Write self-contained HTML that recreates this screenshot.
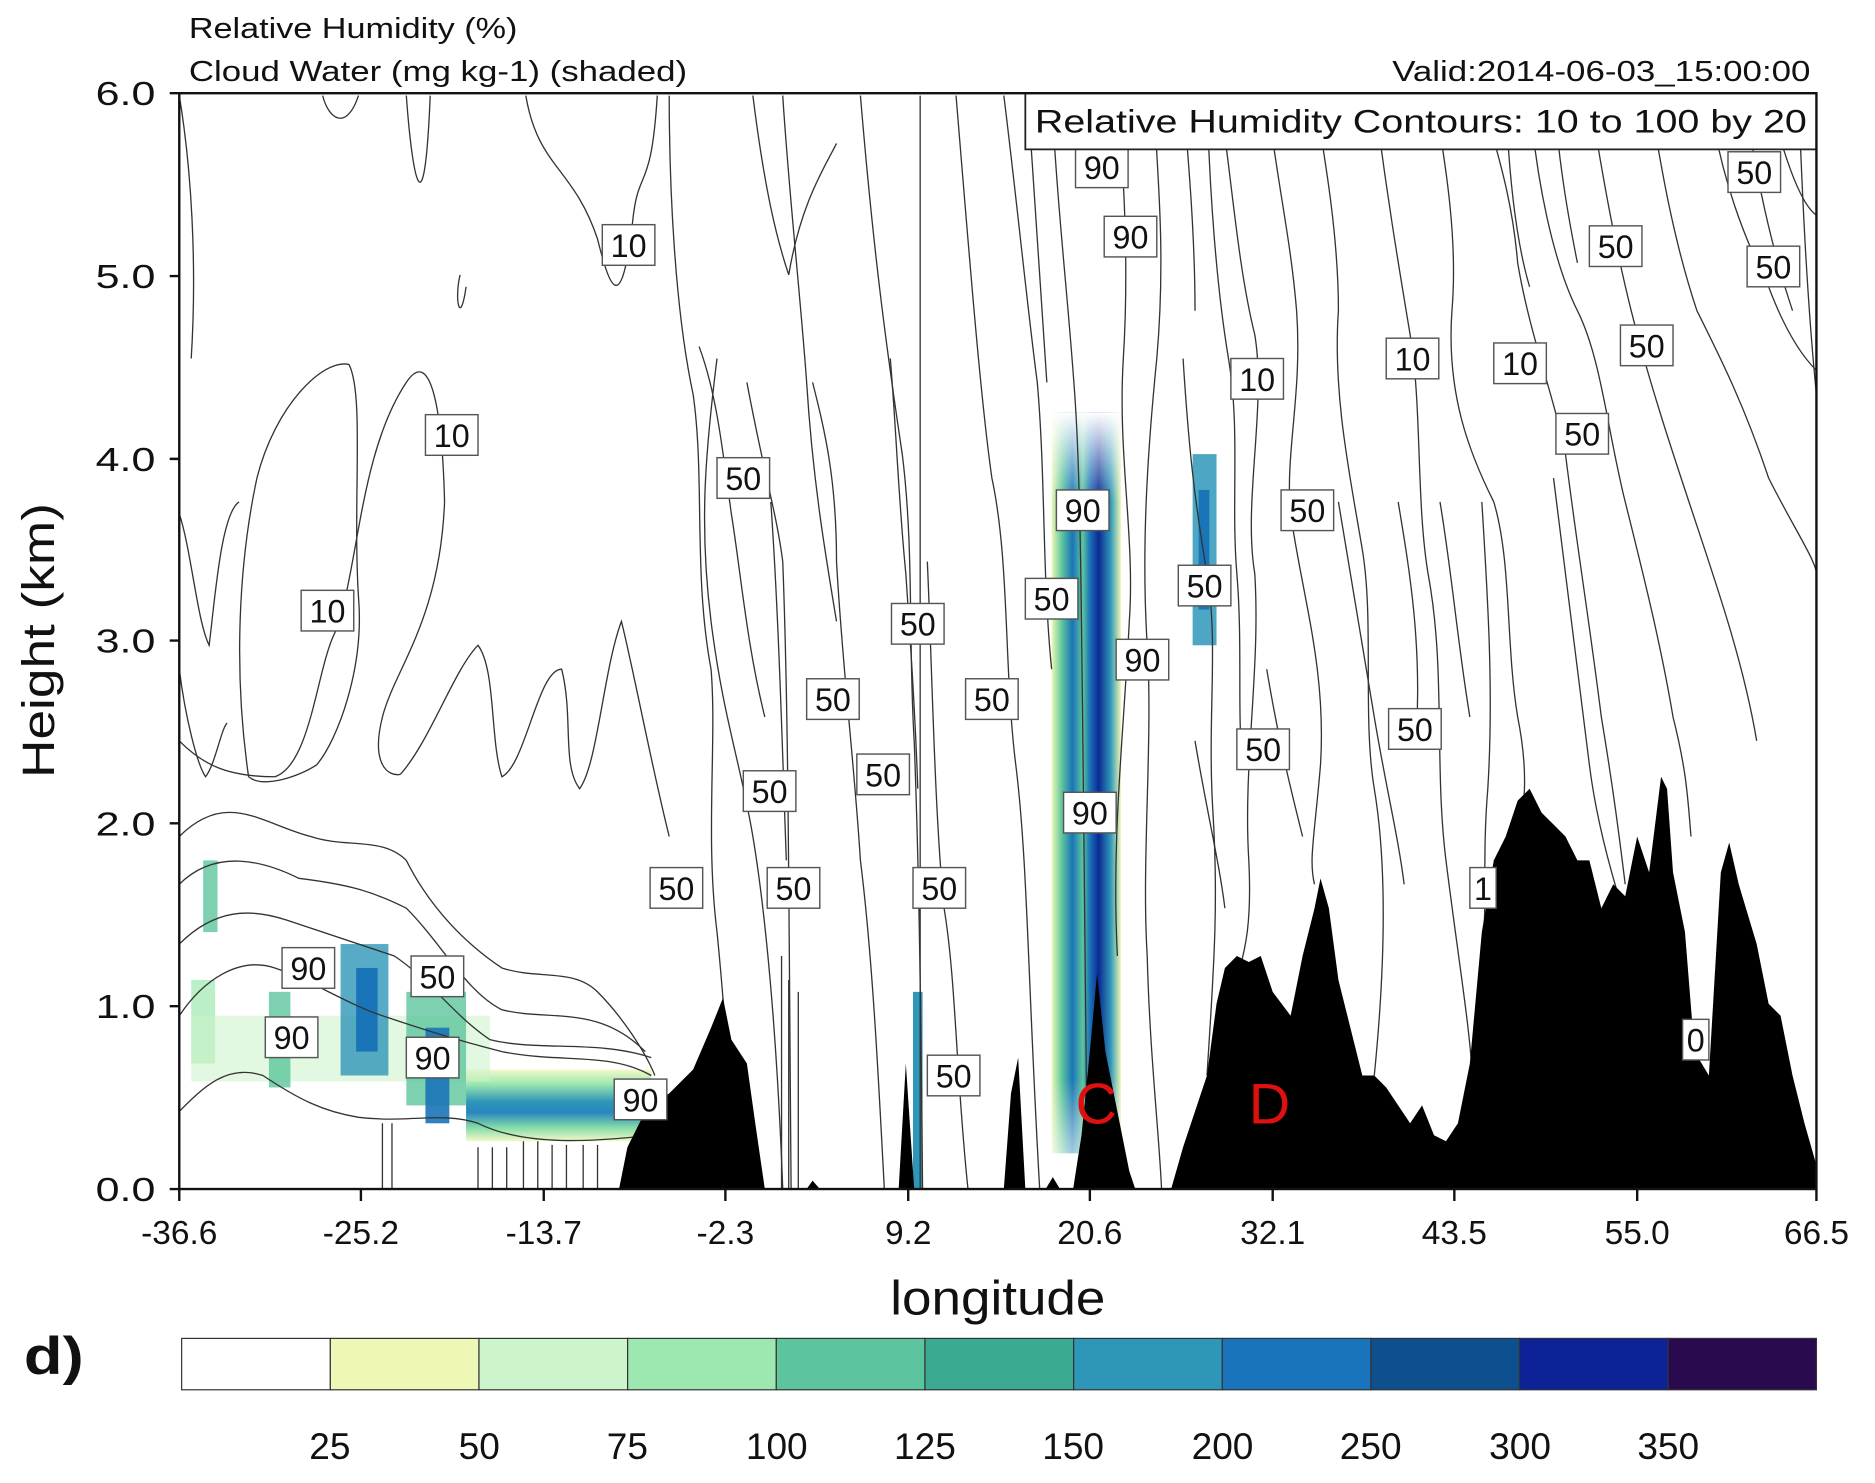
<!DOCTYPE html>
<html><head><meta charset="utf-8"><style>
html,body{margin:0;padding:0;background:#fff}
svg{display:block}
text{font-family:"Liberation Sans",sans-serif;fill:#111}
</style></head><body>
<svg width="1875" height="1483" viewBox="0 0 1569 1241" xmlns="http://www.w3.org/2000/svg">
<defs>
<linearGradient id="band" x1="0" y1="0" x2="0" y2="1">
<stop offset="0" stop-color="#f4f9c8"/><stop offset="0.2" stop-color="#9de8b0"/><stop offset="0.45" stop-color="#2e96b8"/><stop offset="0.6" stop-color="#2a86c0"/><stop offset="0.8" stop-color="#7fd9a8"/><stop offset="1" stop-color="#f4f9c8"/>
</linearGradient>
<linearGradient id="col" x1="0" y1="0" x2="1" y2="0">
<stop offset="0" stop-color="#eef7b5"/><stop offset="0.15" stop-color="#5cc59d"/><stop offset="0.3" stop-color="#1a74b8"/><stop offset="0.45" stop-color="#5cc59d"/><stop offset="0.55" stop-color="#1a74b8"/><stop offset="0.68" stop-color="#0c2a93"/><stop offset="0.85" stop-color="#2e96b8"/><stop offset="1" stop-color="#eef7b5"/>
</linearGradient>
<linearGradient id="colv" x1="0" y1="0" x2="0" y2="1">
<stop offset="0" stop-color="#fff" stop-opacity="1"/><stop offset="0.12" stop-color="#fff" stop-opacity="0"/><stop offset="0.9" stop-color="#fff" stop-opacity="0"/><stop offset="1" stop-color="#fff" stop-opacity="0.6"/>
</linearGradient>
</defs>

<text x="158" y="32" font-size="24" textLength="275" lengthAdjust="spacingAndGlyphs">Relative Humidity (%)</text>
<text x="158" y="68" font-size="24" textLength="417" lengthAdjust="spacingAndGlyphs">Cloud Water (mg kg-1) (shaded)</text>
<text x="1165" y="68" font-size="24" textLength="350" lengthAdjust="spacingAndGlyphs">Valid:2014-06-03_15:00:00</text>

<g>
<rect x="390" y="895" width="155" height="60" fill="url(#band)"/>
<rect x="160" y="820" width="20" height="70" fill="#9de8b0" opacity="0.7"/>
<rect x="170" y="720" width="12" height="60" fill="#5cc59d" opacity="0.8"/>
<rect x="160" y="850" width="250" height="55" fill="#ccf2c8" opacity="0.55"/>
<rect x="225" y="830" width="18" height="80" fill="#5cc59d" opacity="0.8"/>
<rect x="285" y="790" width="40" height="110" fill="#2e96b8" opacity="0.8"/>
<rect x="298" y="810" width="18" height="70" fill="#1a74b8"/>
<rect x="340" y="830" width="50" height="95" fill="#5cc59d" opacity="0.8"/>
<rect x="356" y="860" width="20" height="80" fill="#1a74b8" opacity="0.9"/>
<rect x="880" y="345" width="58" height="620" fill="url(#col)"/>
<rect x="880" y="345" width="58" height="620" fill="url(#colv)"/>
<rect x="998" y="380" width="20" height="160" fill="#2e96b8" opacity="0.85"/>
<rect x="1003" y="410" width="9" height="100" fill="#1a74b8"/>
<rect x="764" y="830" width="8" height="165" fill="#2e96b8"/>
</g>

<g fill="none" stroke="#333" stroke-width="1.1">
<path d="M208,650 C195,560 200,470 215,400 C230,340 270,300 292,305 C305,330 295,420 300,500 C305,560 282,620 265,640 C250,650 220,660 208,650"/>
<path d="M150,430 C160,460 165,520 175,540 C180,500 185,430 200,420"/>
<path d="M150,560 C155,600 165,640 172,650 C180,640 185,610 190,605"/>
<path d="M150,620 C170,640 190,650 230,650 C260,640 265,560 280,530 C300,480 300,380 340,320 C360,290 370,340 372,420 C368,520 330,560 320,600 C310,640 325,650 335,648"/>
<path d="M335,648 C360,620 380,560 400,540 C415,560 410,620 420,650 C440,640 450,560 470,560 C480,600 470,640 485,660 C500,640 505,560 520,520 C530,560 545,640 560,700"/>
<path d="M150,700 C190,660 220,690 260,700 C290,710 320,700 340,720 C360,760 390,790 420,810 C450,820 480,810 500,830 C520,850 540,880 548,900"/>
<path d="M150,740 C180,710 220,720 250,735 C290,740 310,745 340,760 C370,790 390,830 420,845 C460,855 500,840 540,880"/>
<path d="M150,790 C180,760 210,760 240,770 C270,780 300,790 330,800 C360,820 380,850 410,870 C450,880 500,870 545,885"/>
<path d="M150,850 C170,820 200,800 230,810 C260,820 290,840 320,850 C350,860 380,870 420,880 C470,890 510,880 545,900"/>
<path d="M150,930 C170,910 190,890 220,900 C250,920 270,930 300,935 C340,940 370,930 400,940 C440,960 500,955 545,950"/>
<path d="M150,80 C160,140 165,220 160,300"/>
<path d="M270,80 C275,100 290,110 300,80"/>
<path d="M340,80 C345,150 355,200 360,80"/>
<path d="M385,230 C380,250 385,275 390,240"/>
<path d="M440,80 C450,140 480,140 500,200 C510,240 520,270 530,180 C535,140 545,160 550,80"/>
<path d="M560,80 C560,160 565,260 580,330 C590,400 580,480 595,560 C600,620 590,700 600,780 C606,840 610,900 615,995"/>
<path d="M600,300 C590,380 585,440 595,520 C605,600 620,640 630,700 C640,760 650,860 655,995"/>
<path d="M630,80 C640,160 650,200 660,230 C670,170 690,140 700,120"/>
<path d="M625,320 C640,400 650,430 655,470 C660,600 660,760 662,995"/>
<path d="M645,420 C652,520 655,640 658,720"/>
<path d="M680,320 C690,360 700,400 700,470 C705,560 715,640 720,720 C730,800 735,900 740,995"/>
<path d="M720,80 C730,200 740,280 755,380 C765,460 760,540 765,620 C768,700 770,780 772,995"/>
<path d="M770,80 L770,995"/>
<path d="M776,470 C780,560 782,680 790,760 C800,820 800,900 810,995"/>
<path d="M800,80 C810,200 820,330 830,400 C845,470 840,560 850,640 C860,720 860,820 870,995"/>
<path d="M840,80 C850,160 860,260 868,320 C875,400 872,480 880,560"/>
<path d="M880,80 C885,180 895,260 900,340 C905,420 905,520 910,995"/>
<path d="M935,80 C940,140 945,220 940,300 C935,380 950,450 945,520 C940,620 930,700 935,800"/>
<path d="M965,80 C970,160 975,220 968,300 C960,380 955,460 960,540 C965,620 955,720 960,800 C962,880 970,950 972,995"/>
<path d="M990,300 C995,380 1000,420 1010,480 C1020,540 1010,600 1015,680 C1020,760 1015,820 1010,900"/>
<path d="M1020,80 C1030,140 1035,220 1050,280 C1060,340 1040,420 1050,480 C1055,560 1040,640 1045,720 C1048,780 1040,800 1035,820"/>
<path d="M1060,80 C1070,160 1080,200 1085,260 C1090,330 1075,380 1080,430 C1090,500 1110,560 1105,640 C1100,700 1095,720 1100,740"/>
<path d="M1100,80 C1110,140 1120,200 1120,260 C1115,330 1130,400 1140,460 C1150,520 1140,600 1150,660 C1160,720 1160,800 1150,900"/>
<path d="M1150,80 C1160,160 1170,220 1180,280 C1190,340 1185,420 1195,480 C1210,560 1200,640 1210,720 C1220,800 1230,860 1232,900"/>
<path d="M1200,80 C1210,140 1220,200 1215,260 C1210,330 1230,380 1250,420 C1265,470 1260,540 1270,600 C1280,650 1275,680 1270,700"/>
<path d="M1240,80 C1250,120 1265,160 1270,220 C1280,280 1300,330 1310,380 C1320,460 1330,520 1340,600 C1350,660 1355,700 1360,740"/>
<path d="M1280,80 C1285,150 1300,220 1320,260 C1340,300 1345,360 1360,420 C1375,480 1390,540 1400,600 C1410,640 1412,660 1415,700"/>
<path d="M1330,80 C1340,140 1350,200 1365,260 C1380,320 1400,380 1420,440 C1440,500 1460,560 1470,620"/>
<path d="M1380,80 C1390,140 1400,200 1420,260 C1440,300 1460,340 1480,400 C1500,440 1520,470 1520,480"/>
<path d="M1430,80 C1440,150 1460,200 1480,240 C1495,280 1510,300 1520,310"/>
<path d="M1480,80 C1490,120 1505,170 1520,180"/>
<path d="M1300,400 C1310,480 1320,560 1330,640 C1340,720 1370,800 1400,880 C1410,920 1415,960 1420,995"/>
<path d="M1240,420 C1245,500 1250,580 1245,660 C1240,720 1245,760 1240,800"/>
<path d="M1170,420 C1180,480 1190,540 1185,620"/>
<path d="M1000,620 C1010,680 1020,720 1025,760"/>
<path d="M1060,560 C1070,620 1080,660 1090,700"/>
<!-- extra density -->
<path d="M585,290 C600,330 605,380 612,430 C620,480 625,540 640,600"/>
<path d="M655,80 C660,160 670,250 675,320 C680,400 690,460 700,520"/>
<path d="M745,300 C750,360 752,420 758,480 C762,540 766,600 768,660"/>
<path d="M860,80 C866,160 870,240 876,320"/>
<path d="M990,80 C995,140 1000,200 1000,260"/>
<path d="M1010,80 C1012,160 1018,240 1028,300 C1038,360 1030,420 1035,480 C1040,540 1035,600 1040,640"/>
<path d="M1120,420 C1130,480 1140,540 1150,600 C1160,660 1170,700 1175,740"/>
<path d="M1205,420 C1215,480 1220,540 1230,600"/>
<path d="M1260,80 C1262,140 1268,200 1280,240"/>
<path d="M1300,80 C1305,140 1312,180 1320,220"/>
<path d="M1460,80 C1468,140 1480,200 1500,260"/>
<path d="M1505,80 C1508,160 1512,250 1520,330"/>
<path d="M320,995 V940 M328,995 V940 M400,995 V960 M412,995 V960 M424,995 V960 M438,995 V955 M450,995 V955 M462,995 V958 M474,995 V958 M488,995 V958 M500,995 V958 M654,995 V800 M660,995 V820 M668,995 V830"/>
</g>

<path fill="#000" d="M518,995 L525,960 L540,930 L560,915 L580,895 L595,860 L605,835 L612,870 L625,890 L632,940 L640,995 Z
M675,995 L680,988 L686,995 Z
M752,995 L758,890 L765,995 Z
M840,995 L846,915 L852,885 L858,995 Z
M875,995 L881,985 L887,995 Z
M898,995 L905,950 L912,880 L918,815 L925,880 L935,930 L945,980 L950,995 Z
M980,995 L990,960 L1000,930 L1010,900 L1018,840 L1025,810 L1035,800 L1045,805 L1055,800 L1065,830 L1080,850 L1090,800 L1100,760 L1105,735 L1112,760 L1120,820 L1130,860 L1140,900 L1150,900 L1160,910 L1170,925 L1180,940 L1190,925 L1200,950 L1210,955 L1220,940 L1230,890 L1240,780 L1250,720 L1260,700 L1270,670 L1280,660 L1290,680 L1300,690 L1310,700 L1320,720 L1330,720 L1340,760 L1350,740 L1360,750 L1370,700 L1380,730 L1390,650 L1395,660 L1400,730 L1410,780 L1418,880 L1430,900 L1440,730 L1447,705 L1455,740 L1470,790 L1480,840 L1490,850 L1500,900 L1510,940 L1520,975 L1520,995 Z"/>

<text x="900" y="940" font-size="48" style="fill:#e01010">C</text>
<text x="1045" y="940" font-size="48" style="fill:#e01010">D</text>

<g font-size="27">
<g fill="#fff" stroke="#555" stroke-width="1.2">
<rect x="504" y="188" width="44" height="34"/><rect x="356" y="347" width="44" height="34"/><rect x="252" y="494" width="44" height="34"/>
<rect x="600" y="383" width="44" height="34"/><rect x="884" y="410" width="44" height="34"/><rect x="858" y="484" width="44" height="34"/>
<rect x="986" y="473" width="44" height="34"/><rect x="746" y="505" width="44" height="34"/><rect x="934" y="535" width="44" height="34"/>
<rect x="675" y="568" width="44" height="34"/><rect x="808" y="568" width="44" height="34"/><rect x="622" y="645" width="44" height="34"/>
<rect x="717" y="631" width="44" height="34"/><rect x="890" y="663" width="44" height="34"/><rect x="1035" y="610" width="44" height="34"/>
<rect x="1162" y="593" width="44" height="34"/><rect x="544" y="726" width="44" height="34"/><rect x="642" y="726" width="44" height="34"/>
<rect x="764" y="726" width="44" height="34"/><rect x="236" y="793" width="44" height="34"/><rect x="344" y="800" width="44" height="34"/>
<rect x="222" y="851" width="44" height="34"/><rect x="340" y="868" width="44" height="34"/><rect x="776" y="883" width="44" height="34"/>
<rect x="514" y="903" width="44" height="34"/><rect x="1030" y="300" width="44" height="34"/><rect x="1160" y="283" width="44" height="34"/>
<rect x="1250" y="287" width="44" height="34"/><rect x="1072" y="410" width="44" height="34"/><rect x="1302" y="346" width="44" height="34"/>
<rect x="1330" y="189" width="44" height="34"/><rect x="1356" y="272" width="44" height="34"/><rect x="1446" y="127" width="44" height="34"/>
<rect x="1462" y="206" width="44" height="34"/><rect x="900" y="123" width="44" height="34"/><rect x="924" y="181" width="44" height="34"/>
<rect x="1230" y="726" width="22" height="34"/><rect x="1408" y="853" width="22" height="34"/>
</g>
<g text-anchor="middle">
<text x="526" y="215">10</text><text x="378" y="374">10</text><text x="274" y="521">10</text>
<text x="622" y="410">50</text><text x="906" y="437">90</text><text x="880" y="511">50</text>
<text x="1008" y="500">50</text><text x="768" y="532">50</text><text x="956" y="562">90</text>
<text x="697" y="595">50</text><text x="830" y="595">50</text><text x="644" y="672">50</text>
<text x="739" y="658">50</text><text x="912" y="690">90</text><text x="1057" y="637">50</text>
<text x="1184" y="620">50</text><text x="566" y="753">50</text><text x="664" y="753">50</text>
<text x="786" y="753">50</text><text x="258" y="820">90</text><text x="366" y="827">50</text>
<text x="244" y="878">90</text><text x="362" y="895">90</text><text x="798" y="910">50</text>
<text x="536" y="930">90</text><text x="1052" y="327">10</text><text x="1182" y="310">10</text>
<text x="1272" y="314">10</text><text x="1094" y="437">50</text><text x="1324" y="373">50</text>
<text x="1352" y="216">50</text><text x="1378" y="299">50</text><text x="1468" y="154">50</text>
<text x="1484" y="233">50</text><text x="922" y="150">90</text><text x="946" y="208">90</text>
<text x="1241" y="753">1</text><text x="1419" y="880">0</text>
</g>
</g>

<rect x="858" y="78" width="662" height="47" fill="#fff" stroke="#222" stroke-width="1.5"/>
<text x="866" y="111" font-size="27" textLength="646" lengthAdjust="spacingAndGlyphs">Relative Humidity Contours: 10 to 100 by 20</text>

<rect x="150" y="78" width="1370" height="917" fill="none" stroke="#111" stroke-width="2"/>

<g stroke="#111" stroke-width="2">
<path d="M142,995 H150 M142,842 H150 M142,689 H150 M142,536 H150 M142,384 H150 M142,231 H150 M142,78 H150"/>
<path d="M150,995 V1005 M302,995 V1005 M455,995 V1005 M607,995 V1005 M760,995 V1005 M912,995 V1005 M1065,995 V1005 M1217,995 V1005 M1370,995 V1005 M1520,995 V1005"/>
</g>
<g font-size="28" text-anchor="end">
<text x="130" y="1005" textLength="50" lengthAdjust="spacingAndGlyphs">0.0</text><text x="130" y="852" textLength="50" lengthAdjust="spacingAndGlyphs">1.0</text><text x="130" y="699" textLength="50" lengthAdjust="spacingAndGlyphs">2.0</text><text x="130" y="546" textLength="50" lengthAdjust="spacingAndGlyphs">3.0</text><text x="130" y="394" textLength="50" lengthAdjust="spacingAndGlyphs">4.0</text><text x="130" y="241" textLength="50" lengthAdjust="spacingAndGlyphs">5.0</text><text x="130" y="88" textLength="50" lengthAdjust="spacingAndGlyphs">6.0</text>
</g>
<g font-size="28" text-anchor="middle">
<text x="150" y="1041">-36.6</text><text x="302" y="1041">-25.2</text><text x="455" y="1041">-13.7</text><text x="607" y="1041">-2.3</text><text x="760" y="1041">9.2</text><text x="912" y="1041">20.6</text><text x="1065" y="1041">32.1</text><text x="1217" y="1041">43.5</text><text x="1370" y="1041">55.0</text><text x="1520" y="1041">66.5</text>
</g>
<text x="745" y="1100" font-size="40" textLength="180" lengthAdjust="spacingAndGlyphs">longitude</text>
<text transform="translate(45,536) rotate(-90)" font-size="38" text-anchor="middle" textLength="230" lengthAdjust="spacingAndGlyphs">Height (km)</text>
<text x="20" y="1150" font-size="44" font-weight="bold" textLength="50" lengthAdjust="spacingAndGlyphs">d)</text>

<g stroke="#333" stroke-width="1">
<rect x="152" y="1120" width="124.4" height="43" fill="#fff"/>
<rect x="276.4" y="1120" width="124.4" height="43" fill="#eef7b5"/>
<rect x="400.8" y="1120" width="124.4" height="43" fill="#ccf5cc"/>
<rect x="525.2" y="1120" width="124.4" height="43" fill="#9de8b0"/>
<rect x="649.6" y="1120" width="124.4" height="43" fill="#5cc59d"/>
<rect x="774" y="1120" width="124.4" height="43" fill="#3aaa90"/>
<rect x="898.4" y="1120" width="124.4" height="43" fill="#2e96b8"/>
<rect x="1022.8" y="1120" width="124.4" height="43" fill="#1a74bc"/>
<rect x="1147.2" y="1120" width="124.4" height="43" fill="#0e4f8e"/>
<rect x="1271.6" y="1120" width="124.4" height="43" fill="#0c2296"/>
<rect x="1396" y="1120" width="124" height="43" fill="#2a0a4f"/>
</g>
<g font-size="31" text-anchor="middle">
<text x="276" y="1221">25</text><text x="401" y="1221">50</text><text x="525" y="1221">75</text><text x="650" y="1221">100</text><text x="774" y="1221">125</text><text x="898" y="1221">150</text><text x="1023" y="1221">200</text><text x="1147" y="1221">250</text><text x="1272" y="1221">300</text><text x="1396" y="1221">350</text>
</g>
</svg>
</body></html>
